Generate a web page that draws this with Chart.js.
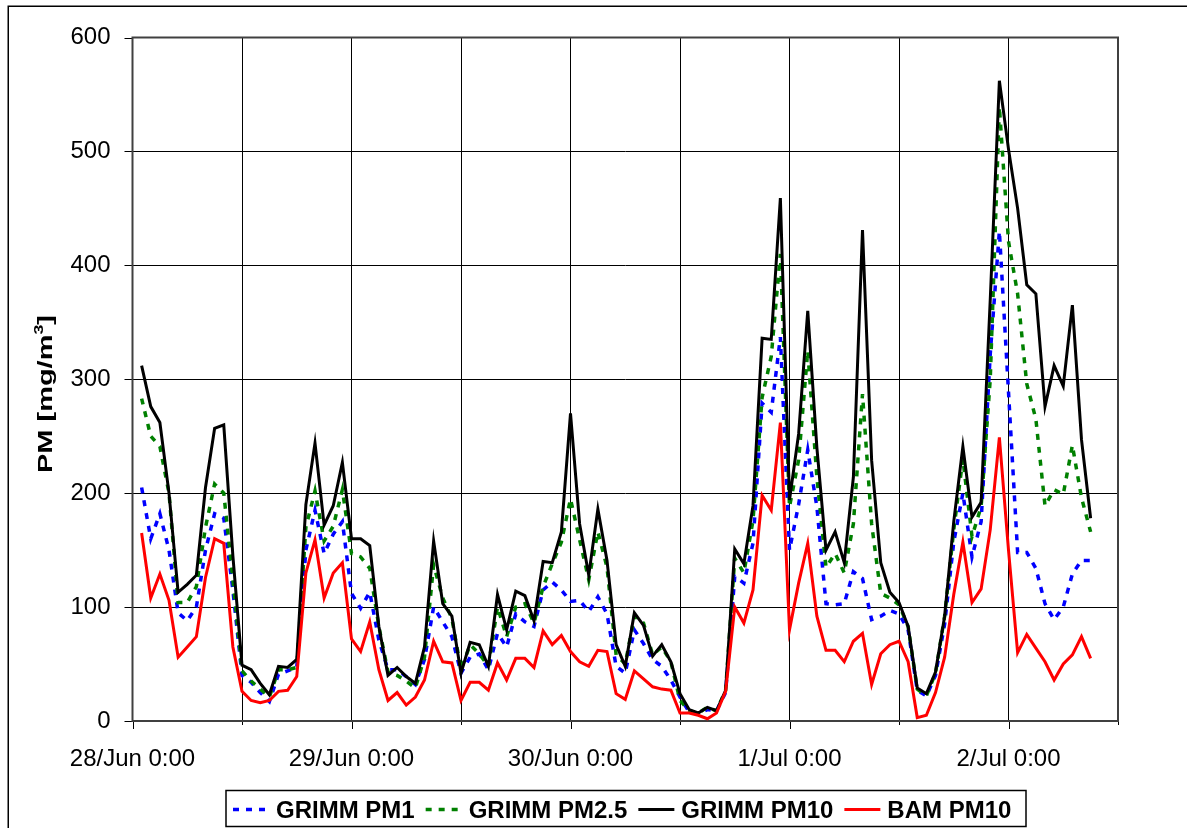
<!DOCTYPE html>
<html>
<head>
<meta charset="utf-8">
<script src="https://cdn.jsdelivr.net/npm/chart.js@4.4.0/dist/chart.umd.min.js"></script>
<style>
  html, body { margin: 0; padding: 0; background: #fff; }
  canvas { display: block; }
</style>
</head>
<body>
<canvas id="pm" width="1187" height="828"></canvas>
<script>
// Hourly sampling times, in hours after 28/Jun 0:00
const hours = [1,2,3,4,5,6,7,8,9,10,11,12,13,14,15,16,17,18,19,20,
  21,22,23,24,25,26,27,28,29,30,31,32,33,34,35,36,37,38,39,40,
  41,42,43,44,45,46,47,48,49,50,51,52,53,54,55,56,57,58,59,60,
  61,62,63,64,65,66,67,68,69,70,71,72,73,74,75,76,77,78,79,80,
  81,82,83,84,85,86,87,88,89,90,91,92,93,94,95,96,97,98,99,100,
  101,102,103,104,105];

// Day labels placed every 24 h on the time axis
const dayLabels = ['28/Jun 0:00', '29/Jun 0:00', '30/Jun 0:00', '1/Jul 0:00', '2/Jul 0:00'];

const grimmPM1 = [205,160,182,150,95,88,100,150,182,178,115,40,34,25,17,41,44,47,150,185,
  147,164,175,112,99,113,71,45,45,39,32,54,100,87,74,42,56,59,45,77,
  65,94,87,83,115,122,115,105,106,96,109,94,48,42,80,68,54,48,36,21,
  8,6,10,9,25,127,121,156,279,271,337,150,190,238,188,103,102,103,131,125,
  89,92,97,94,80,27,22,40,85,157,200,144,175,322,430,289,148,148,134,103,
  89,100,129,141,141];

const grimmPM25 = [283,250,241,200,104,104,118,170,208,200,124,44,35,28,21,45,45,47,170,202,
  158,171,203,147,144,134,83,43,40,35,29,56,137,108,90,45,67,59,48,100,
  74,100,103,86,118,138,157,195,159,124,166,135,58,50,92,86,58,65,52,18,
  9,7,12,9,27,143,130,176,284,320,410,188,229,325,214,135,147,130,173,287,
  173,112,108,102,83,28,22,42,92,168,230,162,188,300,539,421,375,296,265,189,
  203,199,242,196,166];

const grimmPM10 = [312,276,262,200,113,120,128,205,257,260,145,49,45,33,23,48,47,54,190,244,
  172,189,227,160,160,154,83,40,47,39,33,65,158,103,92,42,69,67,48,111,
  80,114,110,88,140,139,166,270,173,128,186,141,67,48,95,84,57,67,52,24,
  10,7,12,9,27,151,138,189,336,335,459,194,252,360,240,150,166,139,214,431,
  229,139,113,104,83,29,24,43,92,175,241,179,192,370,562,502,450,383,375,276,
  312,294,365,247,178];

const bamPM10 = [165,108,129,106,56,65,74,126,160,156,65,26,18,16,18,26,27,39,130,159,
  108,130,139,72,61,87,45,18,25,14,21,36,70,52,51,18,34,34,27,51,
  36,55,55,47,79,67,75,61,52,48,62,61,24,19,44,37,30,28,27,7,
  7,5,2,7,26,100,86,115,198,185,262,80,121,156,92,62,62,52,70,77,
  32,59,67,70,52,3,5,25,56,111,157,104,116,168,249,150,60,76,64,52,
  36,50,58,74,55];

const FONT = '"Liberation Sans", Arial, Helvetica, sans-serif';

function pairs(vals) {
  return vals.map((v, i) => ({ x: hours[i], y: v }));
}

// Page frame, plot border, tick marks, legend and axis title
const decorations = {
  id: 'decorations',
  beforeDraw(chart) {
    const { ctx, width, height } = chart;
    ctx.save();
    ctx.fillStyle = '#fff';
    ctx.fillRect(0, 0, width, height);
    ctx.strokeStyle = '#000';
    ctx.lineWidth = 1.5;
    ctx.strokeRect(8.25, 6.25, width + 20, height + 20);
    ctx.restore();
  },
  beforeDatasetsDraw(chart) {
    const { ctx, chartArea: a, scales: { x, y } } = chart;
    ctx.save();
    ctx.strokeStyle = '#000';
    ctx.lineWidth = 1;
    ctx.beginPath();
    x.ticks.forEach(t => {
      const px = Math.round(x.getPixelForValue(t.value)) + 0.5;
      const len = t.value % 24 === 0 ? 8 : 4;
      ctx.moveTo(px, a.bottom);
      ctx.lineTo(px, a.bottom + len);
    });
    y.ticks.forEach(t => {
      const py = Math.round(y.getPixelForValue(t.value)) + 0.5;
      ctx.moveTo(a.left - 8, py);
      ctx.lineTo(a.left, py);
    });
    ctx.stroke();
    ctx.strokeStyle = '#404040';
    ctx.lineWidth = 2;
    ctx.strokeRect(a.left, a.top, a.right - a.left, a.bottom - a.top);
    ctx.restore();
  },
  afterDraw(chart) {
    const { ctx } = chart;
    ctx.save();

    // legend box
    ctx.strokeStyle = '#000';
    ctx.lineWidth = 1.5;
    ctx.strokeRect(226, 790.5, 800, 36);
    ctx.font = 'bold 24px ' + FONT;
    ctx.textBaseline = 'alphabetic';
    let px = 233;
    const cy = 809.5;
    chart.data.datasets.forEach(ds => {
      ctx.strokeStyle = ds.borderColor;
      ctx.lineWidth = ds.borderWidth;
      ctx.setLineDash(ds.borderDash || []);
      ctx.beginPath();
      ctx.moveTo(px, cy);
      ctx.lineTo(px + 36, cy);
      ctx.stroke();
      ctx.setLineDash([]);
      ctx.fillStyle = '#000';
      ctx.fillText(ds.label, px + 43, 818);
      px += 43 + ctx.measureText(ds.label).width + 11;
    });

    // y axis title with superscript
    const main = 'PM [mg/m', sup = '3', tail = ']';
    ctx.translate(52, 394);
    ctx.rotate(-Math.PI / 2);
    ctx.font = 'bold 21px ' + FONT;
    const w1 = ctx.measureText(main).width;
    const w3 = ctx.measureText(tail).width;
    ctx.font = 'bold 13px ' + FONT;
    const w2 = ctx.measureText(sup).width;
    const total = w1 + w2 + w3;
    ctx.scale(158 / total, 1);
    const s = -total / 2;
    ctx.fillStyle = '#000';
    ctx.font = 'bold 21px ' + FONT;
    ctx.fillText(main, s, 0);
    ctx.fillText(tail, s + w1 + w2, 0);
    ctx.font = 'bold 13px ' + FONT;
    ctx.fillText(sup, s + w1, -9);
    ctx.restore();
  }
};

const lineBase = { pointRadius: 0, pointHoverRadius: 0, tension: 0, fill: false, borderCapStyle: 'butt', borderJoinStyle: 'miter' };

new Chart(document.getElementById('pm'), {
  type: 'line',
  data: {
    datasets: [
      Object.assign({ label: 'GRIMM PM1', data: pairs(grimmPM1), borderColor: '#0000FF', borderWidth: 3.5, borderDash: [6, 7], order: 3 }, lineBase),
      Object.assign({ label: 'GRIMM PM2.5', data: pairs(grimmPM25), borderColor: '#008000', borderWidth: 3.5, borderDash: [6, 7], order: 2 }, lineBase),
      Object.assign({ label: 'GRIMM PM10', data: pairs(grimmPM10), borderColor: '#000000', borderWidth: 3, order: 1 }, lineBase),
      Object.assign({ label: 'BAM PM10', data: pairs(bamPM10), borderColor: '#FF0000', borderWidth: 3, order: 0 }, lineBase)
    ]
  },
  options: {
    responsive: false,
    animation: false,
    devicePixelRatio: 1,
    layout: { padding: { left: 0, right: 69, top: 37.5, bottom: 0 } },
    plugins: { legend: { display: false }, tooltip: { enabled: false } },
    scales: {
      x: {
        type: 'linear',
        min: 0,
        max: 108,
        afterFit: s => { s.height = 107; },
        afterBuildTicks: s => {
          const t = [];
          for (let v = 0; v <= 108; v += 12) t.push({ value: v });
          s.ticks = t;
        },
        ticks: {
          autoSkip: false,
          maxRotation: 0,
          padding: 24,
          color: '#000',
          font: { family: FONT, size: 24 },
          callback: v => (v % 24 === 0 && dayLabels[v / 24] !== undefined) ? dayLabels[v / 24] : ''
        },
        grid: { color: '#000', lineWidth: 1, drawTicks: false },
        border: { display: false }
      },
      y: {
        min: 0,
        max: 600,
        afterFit: s => { s.width = 132.5; },
        ticks: {
          stepSize: 100,
          padding: 22,
          color: '#000',
          font: { family: FONT, size: 24 }
        },
        grid: { color: '#000', lineWidth: 1, drawTicks: false },
        border: { display: false }
      }
    }
  },
  plugins: [decorations]
});
</script>
</body>
</html>
